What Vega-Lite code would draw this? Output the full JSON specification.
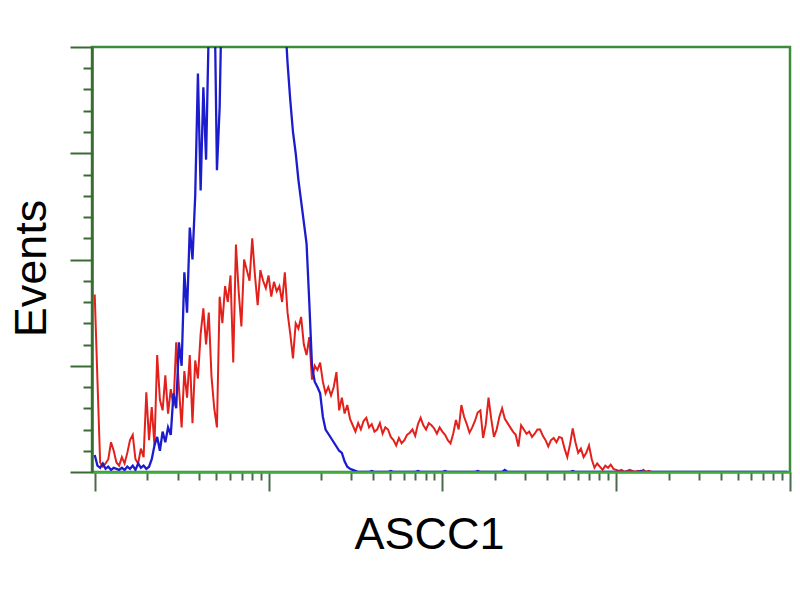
{
  "$schema": "https://vega.github.io/schema/vega-lite/v6.json",
  "width": 698,
  "height": 425,
  "autosize": {"type": "none"},
  "padding": {"left": 92, "top": 47, "right": 10, "bottom": 128},
  "background": "white",
  "config": {"view": {"stroke": "#3c8a3c", "strokeWidth": 2.5}, "font": "Liberation Sans"},
  "datasets": {
    "red": [
      {"ch":0,"n":167},{"ch":1,"n":87},{"ch":2,"n":9},{"ch":3,"n":5},{"ch":4,"n":8},{"ch":5,"n":12},{"ch":6,"n":28},{"ch":7,"n":20},{"ch":8,"n":9},{"ch":9,"n":6},
      {"ch":10,"n":14},{"ch":11,"n":8},{"ch":12,"n":18},{"ch":13,"n":30},{"ch":14,"n":35},{"ch":15,"n":12},{"ch":16,"n":8},{"ch":17,"n":22},{"ch":18,"n":14},{"ch":19,"n":75},
      {"ch":20,"n":30},{"ch":21,"n":61},{"ch":22,"n":25},{"ch":23,"n":110},{"ch":24,"n":68},{"ch":25,"n":58},{"ch":26,"n":91},{"ch":27,"n":55},{"ch":28,"n":78},{"ch":29,"n":62},
      {"ch":30,"n":122},{"ch":31,"n":80},{"ch":32,"n":42},{"ch":33,"n":95},{"ch":34,"n":70},{"ch":35,"n":110},{"ch":36,"n":46},{"ch":37,"n":105},{"ch":38,"n":88},{"ch":39,"n":130},
      {"ch":40,"n":154},{"ch":41,"n":120},{"ch":42,"n":150},{"ch":43,"n":90},{"ch":44,"n":60},{"ch":45,"n":42},{"ch":46,"n":165},{"ch":47,"n":140},{"ch":48,"n":175},{"ch":49,"n":160},
      {"ch":50,"n":185},{"ch":51,"n":103},{"ch":52,"n":214},{"ch":53,"n":170},{"ch":54,"n":137},{"ch":55,"n":200},{"ch":56,"n":190},{"ch":57,"n":180},{"ch":58,"n":220},{"ch":59,"n":185},
      {"ch":60,"n":157},{"ch":61,"n":190},{"ch":62,"n":180},{"ch":63,"n":173},{"ch":64,"n":185},{"ch":65,"n":165},{"ch":66,"n":179},{"ch":67,"n":170},{"ch":68,"n":175},{"ch":69,"n":160},
      {"ch":70,"n":188},{"ch":71,"n":150},{"ch":72,"n":130},{"ch":73,"n":107},{"ch":74,"n":140},{"ch":75,"n":135},{"ch":76,"n":146},{"ch":77,"n":120},{"ch":78,"n":110},{"ch":79,"n":127},
      {"ch":80,"n":87},{"ch":81,"n":100},{"ch":82,"n":96},{"ch":83,"n":103},{"ch":84,"n":85},{"ch":85,"n":74},{"ch":86,"n":80},{"ch":87,"n":72},{"ch":88,"n":80},{"ch":89,"n":94},
      {"ch":90,"n":58},{"ch":91,"n":70},{"ch":92,"n":55},{"ch":93,"n":63},{"ch":94,"n":50},{"ch":95,"n":44},{"ch":96,"n":38},{"ch":97,"n":46},{"ch":98,"n":40},{"ch":99,"n":48},
      {"ch":100,"n":51},{"ch":101,"n":42},{"ch":102,"n":45},{"ch":103,"n":38},{"ch":104,"n":40},{"ch":105,"n":46},{"ch":106,"n":36},{"ch":107,"n":42},{"ch":108,"n":40},{"ch":109,"n":33},
      {"ch":110,"n":30},{"ch":111,"n":25},{"ch":112,"n":32},{"ch":113,"n":27},{"ch":114,"n":30},{"ch":115,"n":35},{"ch":116,"n":37},{"ch":117,"n":40},{"ch":118,"n":34},{"ch":119,"n":45},
      {"ch":120,"n":51},{"ch":121,"n":44},{"ch":122,"n":40},{"ch":123,"n":46},{"ch":124,"n":44},{"ch":125,"n":41},{"ch":126,"n":36},{"ch":127,"n":42},{"ch":128,"n":38},{"ch":129,"n":35},
      {"ch":130,"n":30},{"ch":131,"n":27},{"ch":132,"n":36},{"ch":133,"n":49},{"ch":134,"n":40},{"ch":135,"n":63},{"ch":136,"n":52},{"ch":137,"n":45},{"ch":138,"n":37},{"ch":139,"n":42},
      {"ch":140,"n":48},{"ch":141,"n":56},{"ch":142,"n":58},{"ch":143,"n":32},{"ch":144,"n":45},{"ch":145,"n":70},{"ch":146,"n":50},{"ch":147,"n":33},{"ch":148,"n":40},{"ch":149,"n":52},
      {"ch":150,"n":60},{"ch":151,"n":50},{"ch":152,"n":46},{"ch":153,"n":42},{"ch":154,"n":38},{"ch":155,"n":35},{"ch":156,"n":24},{"ch":157,"n":44},{"ch":158,"n":40},{"ch":159,"n":36},
      {"ch":160,"n":38},{"ch":161,"n":33},{"ch":162,"n":36},{"ch":163,"n":40},{"ch":164,"n":40},{"ch":165,"n":34},{"ch":166,"n":30},{"ch":167,"n":24},{"ch":168,"n":30},{"ch":169,"n":32},
      {"ch":170,"n":28},{"ch":171,"n":33},{"ch":172,"n":32},{"ch":173,"n":22},{"ch":174,"n":14},{"ch":175,"n":26},{"ch":176,"n":41},{"ch":177,"n":28},{"ch":178,"n":18},{"ch":179,"n":22},
      {"ch":180,"n":14},{"ch":181,"n":18},{"ch":182,"n":25},{"ch":183,"n":12},{"ch":184,"n":4},{"ch":185,"n":8},{"ch":186,"n":5},{"ch":187,"n":2},{"ch":188,"n":6},{"ch":189,"n":4},
      {"ch":190,"n":7},{"ch":191,"n":3},{"ch":192,"n":2},{"ch":193,"n":1},{"ch":194,"n":2},{"ch":195,"n":0},{"ch":196,"n":1},{"ch":197,"n":2},{"ch":198,"n":1},{"ch":199,"n":0},
      {"ch":200,"n":1},{"ch":201,"n":0},{"ch":202,"n":2},{"ch":203,"n":0},{"ch":204,"n":1},{"ch":205,"n":0}
    ],
    "blue": [
      {"ch":0,"n":16},{"ch":1,"n":6},{"ch":2,"n":4},{"ch":3,"n":8},{"ch":4,"n":3},{"ch":5,"n":5},{"ch":6,"n":2},{"ch":7,"n":4},{"ch":8,"n":3},{"ch":9,"n":2},
      {"ch":10,"n":4},{"ch":11,"n":2},{"ch":12,"n":5},{"ch":13,"n":3},{"ch":14,"n":6},{"ch":15,"n":2},{"ch":16,"n":8},{"ch":17,"n":4},{"ch":18,"n":6},{"ch":19,"n":3},
      {"ch":20,"n":5},{"ch":21,"n":12},{"ch":22,"n":25},{"ch":23,"n":33},{"ch":24,"n":20},{"ch":25,"n":38},{"ch":26,"n":28},{"ch":27,"n":42},{"ch":28,"n":35},{"ch":29,"n":74},
      {"ch":30,"n":60},{"ch":31,"n":122},{"ch":32,"n":100},{"ch":33,"n":188},{"ch":34,"n":150},{"ch":35,"n":230},{"ch":36,"n":200},{"ch":37,"n":260},{"ch":38,"n":375},{"ch":39,"n":265},
      {"ch":40,"n":362},{"ch":41,"n":294},{"ch":42,"n":420},{"ch":43,"n":450},{"ch":44,"n":470},{"ch":45,"n":284},{"ch":46,"n":343},{"ch":47,"n":480},{"ch":48,"n":520},{"ch":49,"n":560},
      {"ch":50,"n":600},{"ch":51,"n":640},{"ch":52,"n":680},{"ch":53,"n":700},{"ch":54,"n":720},{"ch":55,"n":740},{"ch":56,"n":750},{"ch":57,"n":760},{"ch":58,"n":760},{"ch":59,"n":750},
      {"ch":60,"n":740},{"ch":61,"n":730},{"ch":62,"n":710},{"ch":63,"n":690},{"ch":64,"n":660},{"ch":65,"n":630},{"ch":66,"n":590},{"ch":67,"n":550},{"ch":68,"n":510},{"ch":69,"n":470},
      {"ch":70,"n":430},{"ch":71,"n":385},{"ch":72,"n":350},{"ch":73,"n":320},{"ch":74,"n":300},{"ch":75,"n":275},{"ch":76,"n":255},{"ch":77,"n":235},{"ch":78,"n":215},{"ch":79,"n":160},
      {"ch":80,"n":100},{"ch":81,"n":85},{"ch":82,"n":80},{"ch":83,"n":74},{"ch":84,"n":52},{"ch":85,"n":40},{"ch":86,"n":36},{"ch":87,"n":32},{"ch":88,"n":28},{"ch":89,"n":24},
      {"ch":90,"n":20},{"ch":91,"n":18},{"ch":92,"n":10},{"ch":93,"n":5},{"ch":94,"n":3},{"ch":95,"n":2},{"ch":96,"n":1},{"ch":97,"n":0},
      {"ch":101,"n":0},{"ch":102,"n":1},{"ch":103,"n":0},{"ch":108,"n":0},{"ch":109,"n":1},{"ch":110,"n":0},{"ch":118,"n":0},{"ch":119,"n":1},{"ch":120,"n":0},
      {"ch":128,"n":0},{"ch":129,"n":1},{"ch":130,"n":0},{"ch":140,"n":0},{"ch":141,"n":1},{"ch":142,"n":0},{"ch":150,"n":0},{"ch":151,"n":2},{"ch":152,"n":0},
      {"ch":175,"n":0},{"ch":176,"n":1},{"ch":177,"n":0},{"ch":200,"n":0},{"ch":201,"n":1},{"ch":202,"n":0},{"ch":255,"n":0}
    ]
  },
  "encoding": {
    "x": {
      "field": "ch", "type": "quantitative",
      "scale": {"domain": [-1, 256], "nice": false, "zero": false},
      "axis": {
        "title": "ASCC1", "titleFont": "Liberation Sans", "titleFontSize": 45, "titleFontWeight": "normal", "titleColor": "#000000",
        "titleX": 337, "titleY": 76, "titleBaseline": "alphabetic", "titleAlign": "center", "titleAnchor": null,
        "labels": false, "grid": false, "zindex": 1,
        "values": [0, 19.27, 30.54, 38.53, 44.73, 49.8, 54.09, 57.8, 61.07, 64, 83.27, 94.54, 102.53, 108.73, 113.8, 118.09, 121.8, 125.07, 128, 147.27, 158.54, 166.53, 172.73, 177.8, 182.09, 185.8, 189.07, 192, 211.27, 222.54, 230.53, 236.73, 241.8, 246.09, 249.8, 253.07, 256],
        "tickSize": {"condition": {"test": "datum.value % 64 === 0", "value": 19}, "value": 8},
        "tickWidth": 2, "tickColor": "#48694a", "domainColor": "#3fae3f", "domainWidth": 2.5
      }
    },
    "y": {
      "field": "n", "type": "quantitative",
      "scale": {"domain": [0, 400], "nice": false},
      "axis": {
        "title": "Events", "titleFont": "Liberation Sans", "titleFontSize": 45, "titleFontWeight": "normal", "titleColor": "#000000",
        "titleAngle": -90, "titleX": -47, "titleY": 221, "titleBaseline": "alphabetic", "titleAlign": "center", "titleAnchor": null,
        "labels": false, "grid": false, "zindex": 1,
        "values": [0, 20, 40, 60, 80, 100, 120, 140, 160, 180, 200, 220, 240, 260, 280, 300, 320, 340, 360, 380, 400],
        "tickSize": {"condition": {"test": "datum.value % 100 === 0", "value": 22}, "value": 9},
        "tickWidth": 2, "tickColor": "#3a6a34", "domainColor": "#3a6a34", "domainWidth": 2.5
      }
    }
  },
  "layer": [
    {"data": {"name": "red"}, "mark": {"type": "line", "color": "#e3211c", "strokeWidth": 2, "clip": true}},
    {"data": {"name": "blue"}, "mark": {"type": "line", "color": "#1c1ccf", "strokeWidth": 2.3, "clip": true}}
  ]
}
